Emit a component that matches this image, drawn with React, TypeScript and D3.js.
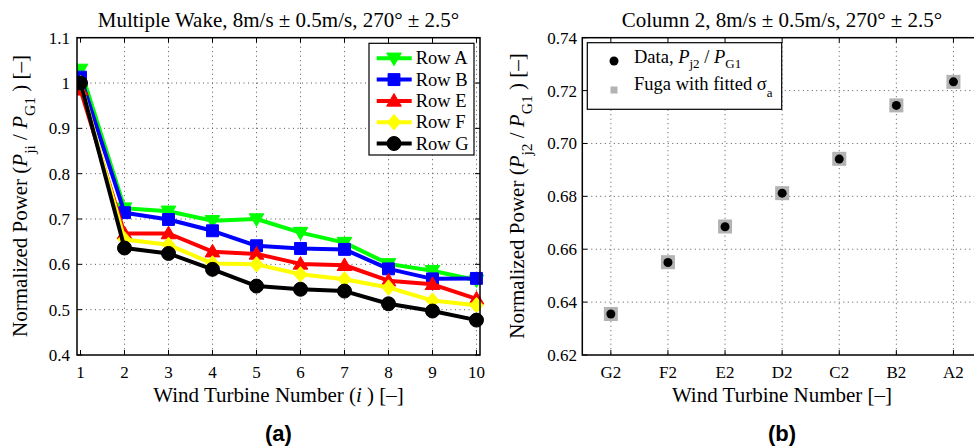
import React from "react";
import * as d3 from "d3";

// ---------- data ----------
const turbines = [1, 2, 3, 4, 5, 6, 7, 8, 9, 10];
const rowA = [1.03, 0.724, 0.717, 0.696, 0.7, 0.67, 0.648, 0.601, 0.586, 0.565];
const rowB = [1.013, 0.714, 0.699, 0.674, 0.641, 0.635, 0.633, 0.59, 0.568, 0.569];
const rowE = [0.985, 0.668, 0.668, 0.628, 0.623, 0.601, 0.598, 0.564, 0.556, 0.524];
const rowF = [1.0, 0.655, 0.643, 0.602, 0.6, 0.578, 0.567, 0.549, 0.52, 0.51];
const rowG = [1.0, 0.636, 0.624, 0.589, 0.552, 0.545, 0.541, 0.513, 0.497, 0.477];
const leftYTicks = [0.4, 0.5, 0.6, 0.7, 0.8, 0.9, 1, 1.1];

const columnLabels = ["G2", "F2", "E2", "D2", "C2", "B2", "A2"];
const dataCol2 = [0.6355, 0.655, 0.6685, 0.6812, 0.6941, 0.7144, 0.7233];
const fugaCol2 = [0.6355, 0.6551, 0.6686, 0.6812, 0.6942, 0.7144, 0.7233];
const rightYTicks = [0.62, 0.64, 0.66, 0.68, 0.7, 0.72, 0.74];

const series = [
  { name: "Row A", values: rowA, color: "#00ff00", marker: "tdown" },
  { name: "Row B", values: rowB, color: "#0000ff", marker: "square" },
  { name: "Row E", values: rowE, color: "#ff0000", marker: "tup" },
  { name: "Row F", values: rowF, color: "#ffff00", marker: "diamond" },
  { name: "Row G", values: rowG, color: "#000000", marker: "circle" },
];

// ---------- layout ----------
const W = 974;
const H = 448;
const top = 37.7;
const bottom = 355;
const L = { x0: 77, x1: 480 };
const R = { x0: 582.3, x1: 982 };
const serif = "'Liberation Serif', 'Times New Roman', serif";
const sans = "'Liberation Sans', Arial, sans-serif";

const xL = d3.scaleLinear().domain([0.92, 10.08]).range([L.x0, L.x1]);
const yL = d3.scaleLinear().domain([0.4, 1.1]).range([bottom, top]);
const xR = d3.scaleLinear().domain([0.5, 7.5]).range([R.x0, R.x1]);
const yR = d3.scaleLinear().domain([0.62, 0.74]).range([bottom, top]);

function markerPath(kind: string, cx: number, cy: number, s: number) {
  const h = s / 2;
  switch (kind) {
    case "tdown":
      return `M${cx - h * 1.05},${cy - h * 0.75}L${cx + h * 1.05},${cy - h * 0.75}L${cx},${cy + h * 1.05}Z`;
    case "tup":
      return `M${cx - h * 1.05},${cy + h * 0.75}L${cx + h * 1.05},${cy + h * 0.75}L${cx},${cy - h * 1.05}Z`;
    case "square":
      return `M${cx - h * 0.85},${cy - h * 0.85}h${h * 1.7}v${h * 1.7}h${-h * 1.7}Z`;
    case "diamond":
      return `M${cx},${cy - h * 1.1}L${cx + h * 0.95},${cy}L${cx},${cy + h * 1.1}L${cx - h * 0.95},${cy}Z`;
    default:
      return "";
  }
}

function Marker({ kind, cx, cy, s, color }: any) {
  if (kind === "circle") {
    return <circle cx={cx} cy={cy} r={s / 2} fill={color} stroke={color} strokeWidth={1} />;
  }
  return <path d={markerPath(kind, cx, cy, s)} fill={color} stroke={color} strokeWidth={1} strokeLinejoin="miter" />;
}

const fmt1 = (v: number) => (v === 1 ? "1" : d3.format(".1f")(v));
const fmt2 = d3.format(".2f");

export default function App() {
  const line = d3
    .line<number>()
    .x((_, i) => xL(turbines[i]))
    .y((v) => yL(v));

  const gridStyle = { stroke: "#555", strokeWidth: 1, strokeDasharray: "1,3.5" };
  const tick = 5;
  const tickFont = 17;
  const labelFont = 21;
  const legendFont = 18.5;

  return (
    <div style={{ position: "absolute", left: 0, top: 0 }}>
      <svg width={W} height={H} viewBox={`0 0 ${W} ${H}`} style={{ display: "block", background: "#fff" }}>
        <defs>
          <clipPath id="clipL">
            <rect x={L.x0} y={top - 20} width={L.x1 - L.x0 + 10} height={bottom - top + 40} />
          </clipPath>
        </defs>
        {/* ===== Left panel ===== */}
        <g>
          {turbines.slice(1).map((t) => (
            <line key={"gx" + t} x1={xL(t)} x2={xL(t)} y1={top} y2={bottom} style={gridStyle} />
          ))}
          {leftYTicks.slice(1, -1).map((v) => (
            <line key={"gy" + v} x1={L.x0} x2={L.x1} y1={yL(v)} y2={yL(v)} style={gridStyle} />
          ))}
          {turbines.map((t) => (
            <g key={"tx" + t}>
              <line x1={xL(t)} x2={xL(t)} y1={bottom} y2={bottom - tick} stroke="#000" />
              <line x1={xL(t)} x2={xL(t)} y1={top} y2={top + tick} stroke="#000" />
              <text x={xL(t)} y={378} textAnchor="middle" fontFamily={serif} fontSize={tickFont}>
                {t}
              </text>
            </g>
          ))}
          {leftYTicks.map((v) => (
            <g key={"ty" + v}>
              <line x1={L.x0} x2={L.x0 + tick} y1={yL(v)} y2={yL(v)} stroke="#000" />
              <line x1={L.x1} x2={L.x1 - tick} y1={yL(v)} y2={yL(v)} stroke="#000" />
              <text x={70} y={yL(v) + 6} textAnchor="end" fontFamily={serif} fontSize={tickFont}>
                {fmt1(v)}
              </text>
            </g>
          ))}
          <g clipPath="url(#clipL)">
            {series.map((s) => (
              <g key={s.name}>
                <path d={line(s.values) || ""} fill="none" stroke={s.color} strokeWidth={4} strokeLinejoin="round" />
                {s.values.map((v, i) => (
                  <Marker key={i} kind={s.marker} cx={xL(turbines[i])} cy={yL(v)} s={14} color={s.color} />
                ))}
              </g>
            ))}
          </g>
          <rect x={L.x0} y={top} width={L.x1 - L.x0} height={bottom - top} fill="none" stroke="#000" strokeWidth={1.5} />
          {/* legend */}
          <rect x={369} y={43.3} width={105} height={111.7} fill="#fff" stroke="#000" strokeWidth={1.2} />
          {series.map((s, i) => {
            const yy = 58.3 + i * 21.3;
            return (
              <g key={"lg" + s.name}>
                <line x1={376.7} x2={411.7} y1={yy} y2={yy} stroke={s.color} strokeWidth={4} />
                <Marker kind={s.marker} cx={394} cy={yy} s={14} color={s.color} />
                <text x={415.7} y={yy + 6} fontFamily={serif} fontSize={legendFont}>
                  {s.name}
                </text>
              </g>
            );
          })}
          <text x={278.5} y={27} textAnchor="middle" fontFamily={serif} fontSize={labelFont}>
            Multiple Wake, 8m/s ± 0.5m/s, 270° ± 2.5°
          </text>
          <text x={278.5} y={401.7} textAnchor="middle" fontFamily={serif} fontSize={labelFont}>
            Wind Turbine Number (<tspan fontStyle="italic">i</tspan> ) [–]
          </text>
          <text transform={`translate(27,196) rotate(-90)`} textAnchor="middle" fontFamily={serif} fontSize={labelFont}>
            Normalized Power (<tspan fontStyle="italic">P</tspan>
            <tspan fontSize={15.5} dy={8}>ji</tspan>
            <tspan dy={-8}> / </tspan>
            <tspan fontStyle="italic">P</tspan>
            <tspan fontSize={15.5} dy={8}>G1</tspan>
            <tspan dy={-8}> ) [–]</tspan>
          </text>
          <text x={278.5} y={441} textAnchor="middle" fontFamily={sans} fontWeight="bold" fontSize={22}>
            (a)
          </text>
        </g>

        {/* ===== Right panel ===== */}
        <g>
          {columnLabels.map((c, i) => (
            <line key={"rgx" + c} x1={xR(i + 1)} x2={xR(i + 1)} y1={top} y2={bottom} style={gridStyle} />
          ))}
          {rightYTicks.slice(1, -1).map((v) => (
            <line key={"rgy" + v} x1={R.x0} x2={R.x1} y1={yR(v)} y2={yR(v)} style={gridStyle} />
          ))}
          {columnLabels.map((c, i) => (
            <g key={"rtx" + c}>
              <line x1={xR(i + 1)} x2={xR(i + 1)} y1={bottom} y2={bottom - tick} stroke="#000" />
              <line x1={xR(i + 1)} x2={xR(i + 1)} y1={top} y2={top + tick} stroke="#000" />
              <text x={xR(i + 1)} y={378} textAnchor="middle" fontFamily={serif} fontSize={tickFont}>
                {c}
              </text>
            </g>
          ))}
          {rightYTicks.map((v) => (
            <g key={"rty" + v}>
              <line x1={R.x0} x2={R.x0 + tick} y1={yR(v)} y2={yR(v)} stroke="#000" />
              <text x={577} y={yR(v) + 6} textAnchor="end" fontFamily={serif} fontSize={tickFont}>
                {fmt2(v)}
              </text>
            </g>
          ))}
          {fugaCol2.map((v, i) => (
            <rect key={"fg" + i} x={xR(i + 1) - 7} y={yR(v) - 7} width={14} height={14} fill="#b3b3b3" />
          ))}
          {dataCol2.map((v, i) => (
            <circle key={"dt" + i} cx={xR(i + 1)} cy={yR(v)} r={4.5} fill="#000" />
          ))}
          <rect x={R.x0} y={top} width={R.x1 - R.x0} height={bottom - top} fill="none" stroke="#000" strokeWidth={1.5} />
          {/* legend */}
          <rect x={587.3} y={42.7} width={194.4} height={66.6} fill="#fff" stroke="#000" strokeWidth={1.2} />
          <circle cx={614} cy={61} r={4.5} fill="#000" />
          <text x={634} y={63} fontFamily={serif} fontSize={legendFont}>
            Data, <tspan fontStyle="italic">P</tspan>
            <tspan fontSize={13} dy={5}>j2</tspan>
            <tspan dy={-5}> / </tspan>
            <tspan fontStyle="italic">P</tspan>
            <tspan fontSize={13} dy={5}>G1</tspan>
          </text>
          <rect x={610.5} y={86.5} width={7} height={7} fill="#b3b3b3" />
          <text x={634} y={90} fontFamily={serif} fontSize={legendFont}>
            Fuga with fitted σ<tspan fontSize={13} dy={7}>a</tspan>
          </text>
          <text x={782} y={27} textAnchor="middle" fontFamily={serif} fontSize={labelFont}>
            Column 2, 8m/s ± 0.5m/s, 270° ± 2.5°
          </text>
          <text x={782} y={401.7} textAnchor="middle" fontFamily={serif} fontSize={labelFont}>
            Wind Turbine Number [–]
          </text>
          <text transform={`translate(524,196) rotate(-90)`} textAnchor="middle" fontFamily={serif} fontSize={labelFont}>
            Normalized Power (<tspan fontStyle="italic">P</tspan>
            <tspan fontSize={15.5} dy={8}>j2</tspan>
            <tspan dy={-8}> / </tspan>
            <tspan fontStyle="italic">P</tspan>
            <tspan fontSize={15.5} dy={8}>G1</tspan>
            <tspan dy={-8}> ) [–]</tspan>
          </text>
          <text x={782} y={441} textAnchor="middle" fontFamily={sans} fontWeight="bold" fontSize={22}>
            (b)
          </text>
        </g>
      </svg>
    </div>
  );
}
